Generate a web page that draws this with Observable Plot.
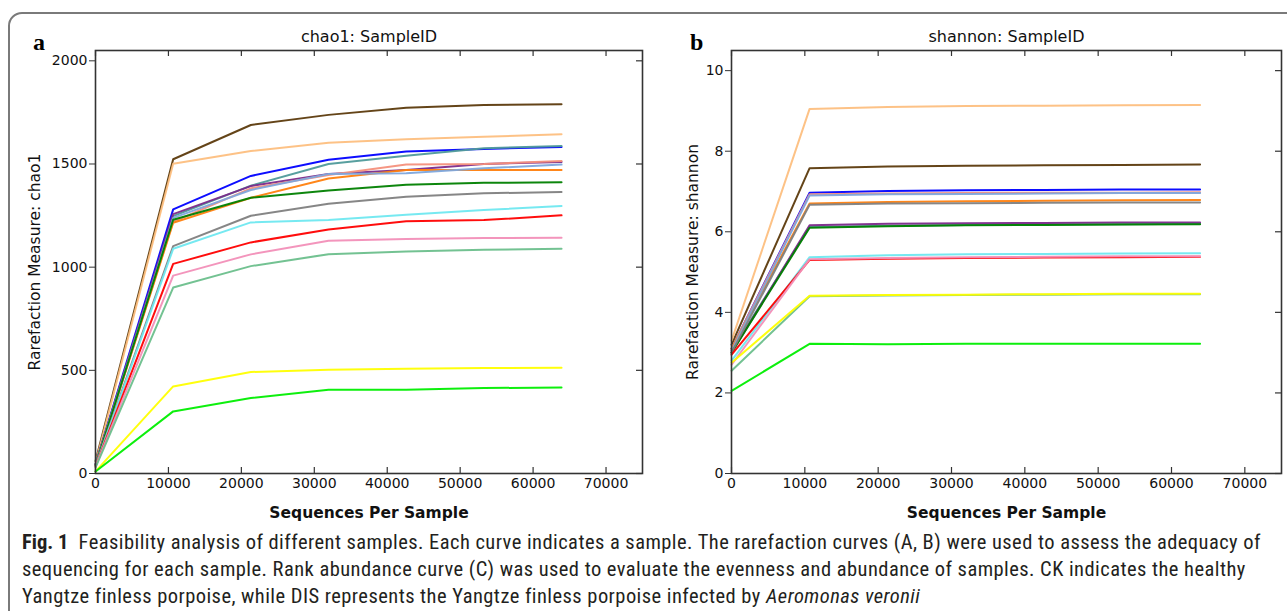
<!DOCTYPE html>
<html>
<head>
<meta charset="utf-8">
<script src="https://cdn.jsdelivr.net/npm/d3@7"></script>
<script src="https://cdn.jsdelivr.net/npm/@observablehq/plot@0.6"></script>
<style>
  html, body { margin: 0; padding: 0; background: #fff; }
  #page { position: relative; width: 1287px; height: 611px; overflow: hidden; background: #fff; }
  #border { position: absolute; left: 8px; top: 12px; width: 1320px; height: 640px;
            border: 2px solid #7a7a7a; border-top-left-radius: 14px; box-sizing: border-box; }
  .panel { position: absolute; top: 0; }
  .letter { position: absolute; font-family: "Liberation Serif", "DejaVu Serif", serif; font-weight: bold; font-size: 24px; color: #000; }
  #caption { position: absolute; left: 22px; top: 529px; font-family: "Liberation Sans Narrow", "Roboto Condensed", Roboto, "Liberation Sans", sans-serif;
             font-size: 20.5px; letter-spacing: 0.45px; line-height: 27px; color: #231f20; white-space: nowrap; }
  #caption b { font-weight: bold; letter-spacing: 0; }
</style>
</head>
<body>
<div id="page">
  <div id="border"></div>
  <div id="left" class="panel" style="left:0px"></div>
  <div id="right" class="panel" style="left:660px"></div>
  <div class="letter" style="left:33px; top:29px">a</div>
  <div class="letter" style="left:690px; top:29px">b</div>
  <div id="caption">
    <b>Fig. 1</b>&nbsp; Feasibility analysis of different samples. Each curve indicates a sample. The rarefaction curves (A, B) were used to assess the adequacy of<br>
    sequencing for each sample. Rank abundance curve (C) was used to evaluate the evenness and abundance of samples. CK indicates the healthy<br>
    Yangtze finless porpoise, while DIS represents the Yangtze finless porpoise infected by <i>Aeromonas veronii</i>
  </div>
</div>
<script>
// Sequencing depths (Sequences Per Sample)
const depths = [10, 10650, 21300, 31950, 42600, 53250, 63900];
const xTicks = [0, 10000, 20000, 30000, 40000, 50000, 60000, 70000];

const sampleIds = ["S01","S02","S03","S04","S05","S06","S07","S08","S09","S10","S11","S12","S13","S14","S15","S16"];
const sampleColors = ["#5c3a0c","#fdbf7f","#0000ff","#4f9a9a","#7b2a8a","#f4907c","#ff7f0e","#7ea6dc",
                      "#008000","#808080","#6fe8f0","#ff0000","#f28fb8","#6cbf8c","#ffff00","#00ee00"];

// chao1 per sample at each depth
const chao1Values = [
  [60, 1523, 1689, 1738, 1773, 1786, 1790],
  [50, 1501, 1563, 1603, 1620, 1632, 1644],
  [45, 1280, 1442, 1521, 1561, 1573, 1582],
  [45, 1247, 1395, 1500, 1540, 1576, 1587],
  [45, 1257, 1393, 1451, 1471, 1500, 1510],
  [40, 1220, 1382, 1447, 1497, 1500, 1514],
  [40, 1215, 1336, 1430, 1471, 1471, 1471],
  [40, 1239, 1374, 1451, 1455, 1479, 1497],
  [40, 1230, 1336, 1372, 1399, 1409, 1411],
  [40, 1102, 1249, 1307, 1341, 1358, 1364],
  [35, 1089, 1217, 1228, 1254, 1277, 1296],
  [35, 1016, 1120, 1183, 1222, 1228, 1251],
  [35, 959, 1062, 1128, 1137, 1141, 1142],
  [30, 901, 1005, 1063, 1076, 1084, 1089],
  [10, 422, 492, 503, 508, 511, 513],
  [10, 301, 366, 406, 406, 414, 417]
];

// shannon per sample at each depth
const shannonValues = [
  [3.20, 7.58, 7.62, 7.64, 7.65, 7.66, 7.67],
  [3.30, 9.05, 9.10, 9.12, 9.13, 9.14, 9.15],
  [3.10, 6.97, 7.01, 7.03, 7.04, 7.05, 7.05],
  [3.05, 6.12, 6.15, 6.17, 6.18, 6.19, 6.20],
  [3.00, 6.16, 6.20, 6.21, 6.22, 6.23, 6.23],
  [3.10, 6.93, 6.95, 6.96, 6.97, 6.97, 6.98],
  [3.10, 6.70, 6.74, 6.76, 6.77, 6.78, 6.79],
  [3.05, 6.90, 6.93, 6.94, 6.95, 6.96, 6.96],
  [3.00, 6.10, 6.14, 6.16, 6.17, 6.18, 6.19],
  [3.00, 6.67, 6.70, 6.71, 6.72, 6.73, 6.73],
  [2.80, 5.37, 5.42, 5.44, 5.45, 5.46, 5.47],
  [2.95, 5.30, 5.33, 5.35, 5.36, 5.37, 5.38],
  [2.70, 5.32, 5.35, 5.37, 5.38, 5.39, 5.39],
  [2.55, 4.40, 4.42, 4.43, 4.44, 4.45, 4.45],
  [2.75, 4.41, 4.43, 4.44, 4.45, 4.46, 4.46],
  [2.05, 3.22, 3.21, 3.22, 3.22, 3.22, 3.22]
];

const chao1Ticks = [0, 500, 1000, 1500, 2000];
const shannonTicks = [0, 2, 4, 6, 8, 10];

function toRows(values) {
  return sampleIds.flatMap((s, i) => depths.map((d, j) => ({sample: s, depth: d, value: values[i][j]})));
}

function panel({values, yDomain, yTicks, title, ylabel, width, marginLeft, marginRight, ylabelDx}) {
  const H = 520, mt = 50, mb = 47;
  const innerH = H - mt - mb;
  const innerW = width - marginLeft - marginRight;
  return Plot.plot({
    width, height: H, marginTop: mt, marginBottom: mb, marginLeft, marginRight,
    style: {fontFamily: "DejaVu Sans", fontSize: "14px", background: "transparent", overflow: "visible", color: "#111"},
    x: {domain: [0, 75000]},
    y: {domain: yDomain},
    color: {domain: sampleIds, range: sampleColors},
    marks: [
      Plot.axisX(xTicks, {tickSize: 0, tickPadding: 5, tickFormat: d => String(d), label: null, fontSize: 14}),
      Plot.axisY(yTicks, {tickSize: 6, tickPadding: 2, tickFormat: d => String(d), label: null, fontSize: 14, stroke: "#333"}),
      Plot.tickX(xTicks, {x: d => d, insetTop: innerH - 6, stroke: "#333", strokeWidth: 1.2}),
      Plot.tickX(xTicks, {x: d => d, insetBottom: innerH - 6, stroke: "#333", strokeWidth: 1.2}),
      Plot.tickY(yTicks, {y: d => d, insetLeft: innerW - 6, stroke: "#333", strokeWidth: 1.2}),
      Plot.line(toRows(values), {x: "depth", y: "value", z: "sample", stroke: "sample", strokeWidth: 2, strokeOpacity: 0.95}),
      Plot.frame({stroke: "#333", strokeWidth: 1.6}),
      Plot.text([title], {frameAnchor: "top", dy: -14, lineAnchor: "middle", textAnchor: "middle", fontSize: 16, fill: "#111"}),
      Plot.text(["Sequences Per Sample"], {frameAnchor: "bottom", dy: 40, lineAnchor: "middle", textAnchor: "middle", fontSize: 15.5, fontWeight: "bold", fill: "#111"}),
      Plot.text([ylabel], {frameAnchor: "left", dx: ylabelDx, rotate: -90, lineAnchor: "middle", textAnchor: "middle", fontSize: 15.5, fill: "#111"})
    ]
  });
}

document.getElementById("left").append(panel({
  values: chao1Values, yDomain: [0, 2050], yTicks: chao1Ticks,
  title: "chao1: SampleID", ylabel: "Rarefaction Measure: chao1",
  width: 660, marginLeft: 95, marginRight: 18, ylabelDx: -60
}));
document.getElementById("right").append(panel({
  values: shannonValues, yDomain: [0, 10.5], yTicks: shannonTicks,
  title: "shannon: SampleID", ylabel: "Rarefaction Measure: shannon",
  width: 627, marginLeft: 71, marginRight: 6, ylabelDx: -38
}));
</script>
</body>
</html>
